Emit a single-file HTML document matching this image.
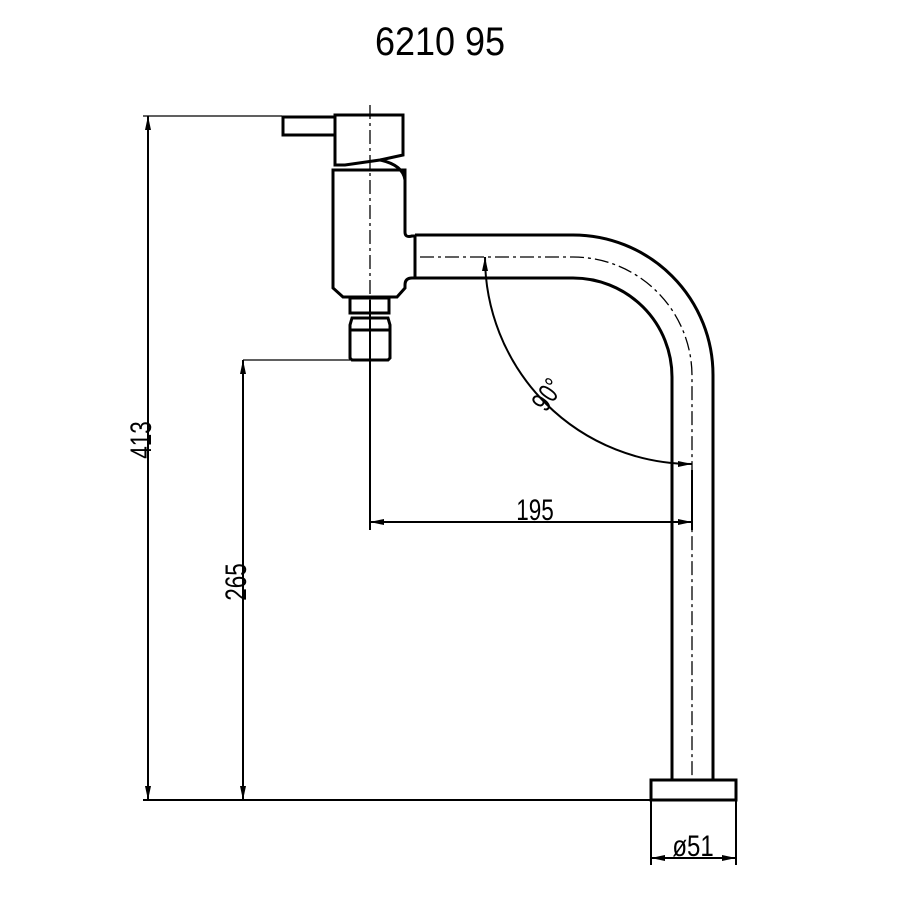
<!DOCTYPE html>
<html><head><style>body{margin:0;background:#fff}svg{display:block}</style></head><body>
<svg width="900" height="900" viewBox="0 0 900 900" xmlns="http://www.w3.org/2000/svg">
<rect width="900" height="900" fill="#fff"/>
<text transform="translate(440 55) scale(0.9 1)" font-family="Liberation Sans, sans-serif" font-size="40" text-anchor="middle">6210 95</text>
<g fill="none" stroke="#000" stroke-width="3">
<rect x="283" y="117" width="52" height="18"/>
<path d="M335 115 H403 V155 L380 160 L345 165 H335 Z"/>
<path d="M380 160 Q403 165 405 180"/>
<path d="M333 170 H405 V232 Q405 238 412 236 H415 V278 H412 Q405 278 405 285 V288 L397 297 H343 L333 288 Z"/>
<rect x="350" y="298" width="39" height="15"/>
<path d="M352 318 H388 L390 325 V358 L388 360 H352 L350 358 V325 Z"/>
<line x1="350" y1="330" x2="390" y2="330"/>
<path d="M415 235 H573 A140 140 0 0 1 713 375 V780"/>
<path d="M415 278 H573 A99 99 0 0 1 672 377 V780"/>
<rect x="651" y="780" width="85" height="20"/>
</g>
<g fill="none" stroke="#000" stroke-width="1.3">
<path d="M370 105 V300" stroke-dasharray="14 4 3 4"/>
<path d="M420 257 H573 A119 119 0 0 1 692 376 V780" stroke-dasharray="14 4 3 4"/>
<line x1="370" y1="300" x2="370" y2="530" stroke-width="2"/>
<line x1="692" y1="470" x2="692" y2="530" stroke-width="2"/>
<line x1="143" y1="116" x2="282" y2="116"/>
<line x1="148" y1="116" x2="148" y2="800" stroke-width="2"/>
<line x1="143" y1="800" x2="651" y2="800" stroke-width="2"/>
<line x1="243" y1="360" x2="350" y2="360"/>
<line x1="243" y1="360" x2="243" y2="800" stroke-width="2"/>
<line x1="370" y1="522" x2="692" y2="522" stroke-width="2"/>
<path d="M485 257 A207 207 0 0 0 692 464" stroke-width="2"/>
<line x1="651" y1="800" x2="651" y2="865" stroke-width="2"/>
<line x1="736" y1="800" x2="736" y2="865" stroke-width="2"/>
<line x1="651" y1="858" x2="736" y2="858" stroke-width="2"/>
</g>
<g fill="#000">
<path d="M148 116 l-3 14 h6z"/><path d="M148 800 l-3 -14 h6z"/>
<path d="M243 360 l-3 14 h6z"/><path d="M243 800 l-3 -14 h6z"/>
<path d="M370 522 l14 -3 v6z"/><path d="M692 522 l-14 -3 v6z"/>
<path d="M485 257 l-3 14 h6z"/><path d="M692 464 l-14 -3 v6z"/>
<path d="M651 858 l14 -3 v6z"/><path d="M736 858 l-14 -3 v6z"/>
</g>
<g font-family="Liberation Sans, sans-serif" font-size="30" fill="#000">
<text transform="translate(535 520) scale(0.75 1)" text-anchor="middle">195</text>
<text transform="translate(151 440) rotate(-90) scale(0.75 1)" text-anchor="middle">413</text>
<text transform="translate(246 582) rotate(-90) scale(0.75 1)" text-anchor="middle">265</text>
<text transform="translate(555 400) rotate(-55) scale(0.75 1)" text-anchor="middle" font-size="28">90°</text>
<text transform="translate(693 856) scale(0.8 1)" text-anchor="middle">ø51</text>
</g>
</svg>
</body></html>
